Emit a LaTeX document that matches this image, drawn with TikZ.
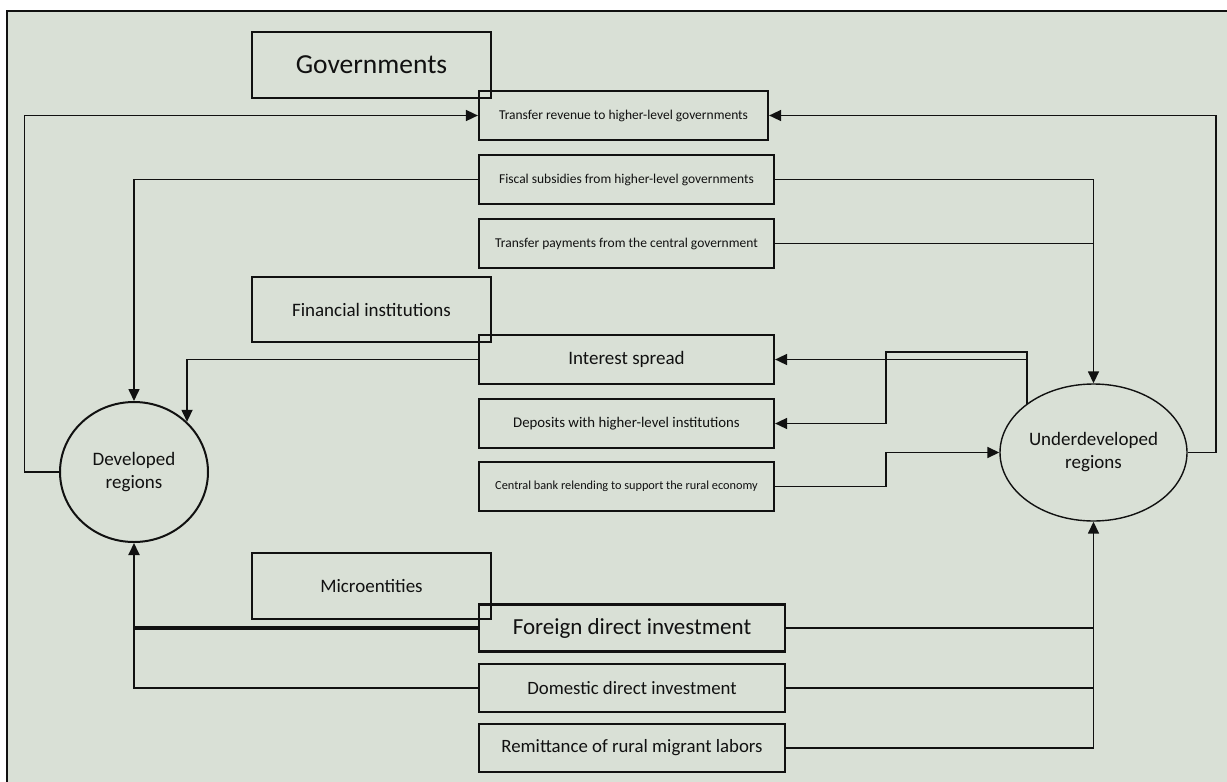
\documentclass[tikz,border=0pt]{standalone}
\usepackage{fontspec}
\setmainfont{Carlito}
\usetikzlibrary{shapes.geometric,arrows.meta}
\definecolor{bg}{HTML}{D9E0D6}
\definecolor{ink}{HTML}{111111}
\begin{document}
\begin{tikzpicture}[x=1pt,y=-1pt,
  every node/.style={text=ink},
  cat/.style={draw=ink, line width=1.7pt, minimum width=239pt, minimum height=66pt, inner sep=0pt},
  flow/.style={draw=ink, line width=2.2pt, minimum height=49pt, inner sep=0pt},
  conn/.style={draw=ink, line width=1.6pt},
  arr/.style={conn, -{Triangle[length=12pt,width=11pt]}},
  reg/.style={draw=ink, ellipse, line width=1.7pt, inner sep=0pt, align=center, font=\fontsize{19}{23}\selectfont}]
\useasboundingbox (0,0) rectangle (1227,782);
\fill[bg] (7,11) rectangle (1227,782);
\draw[ink, line width=2pt] (1240,11) -- (7,11) -- (7,800);

% category boxes
\node[cat, font=\fontsize{27.5}{33}\selectfont] (gov) at (371.5,65) {Governments};
\node[cat, minimum height=65pt, line width=1.4pt, font=\fontsize{19}{23}\selectfont] (fin) at (371.5,309.5) {Financial institutions};
\node[cat, line width=1.4pt, font=\fontsize{19}{23}\selectfont] (micro) at (371.5,586) {Microentities};

% flow boxes
\node[flow, minimum width=289pt, font=\fontsize{13.5}{16}\selectfont] (trev) at (623.5,115.5) {Transfer revenue to higher-level governments};
\node[flow, minimum width=295pt, font=\fontsize{13.5}{16}\selectfont] (fisc) at (626.5,179.5) {Fiscal subsidies from higher-level governments};
\node[flow, minimum width=295pt, font=\fontsize{13.5}{16}\selectfont] (tpay) at (626.5,243.5) {Transfer payments from the central government};
\node[flow, minimum width=295pt, font=\fontsize{19}{23}\selectfont] (ispr) at (626.5,359.5) {Interest spread};
\node[flow, minimum width=295pt, font=\fontsize{14.8}{18}\selectfont] (dep) at (626.5,423.5) {Deposits with higher-level institutions};
\node[flow, minimum width=295pt, font=\fontsize{12.3}{15}\selectfont] (cb) at (626.5,486.5) {Central bank relending to support the rural economy};
\node[flow, minimum width=306pt, minimum height=47pt, font=\fontsize{23}{27}\selectfont] (fdi) at (632,628) {Foreign direct investment};
\node[flow, minimum width=306pt, minimum height=48pt, font=\fontsize{18.8}{23}\selectfont] (ddi) at (632,688) {Domestic direct investment};
\node[flow, minimum width=306pt, minimum height=48pt, font=\fontsize{18.8}{23}\selectfont] (rem) at (632,748) {Remittance of rural migrant labors};

% regions
\node[reg, minimum width=148pt, minimum height=140pt, line width=2pt] (dev) at (134,472) {Developed\\regions};
\node[reg, minimum width=187pt, minimum height=137pt, line width=1.4pt] (und) at (1093.5,452.5) {Underdeveloped\\regions};

% helper columns
\coordinate (L) at (24.5,0);
\coordinate (R) at (1216,0);
\coordinate (J) at (886,352);

% government flows
\draw[arr] (dev.west) -- (dev.west -| L) |- (trev.west);
\draw[arr] (und.east) -- (und.east -| R) |- (trev.east);
\draw[arr] (fisc.west) -| (dev.north);
\draw[arr] (fisc.east) -| (und.north);
\draw[conn] (tpay.east) -- (tpay.east -| und.north);

% financial flows
\draw[arr] (ispr.west) -| (dev.north east);
\draw[arr] (und.north west) |- (ispr.east);
\draw[arr] (und.north west) |- (J) |- (dep.east);
\draw[arr] (cb.east) -| (J |- und.west) -- (und.west);

% micro flows
\draw[ink, line width=3.2pt] (fdi.west) -- (fdi.west -| dev.south);
\draw[arr, line width=2pt] (fdi.west -| dev.south) -- (dev.south);
\draw[ink, line width=1.1pt] (ddi.west) -| (fdi.west -| dev.south);
\draw[conn] (fdi.east) -- (fdi.east -| und.south);
\draw[conn] (ddi.east) -- (ddi.east -| und.south);
\draw[arr] (rem.east) -| (und.south);
\end{tikzpicture}
\end{document}
